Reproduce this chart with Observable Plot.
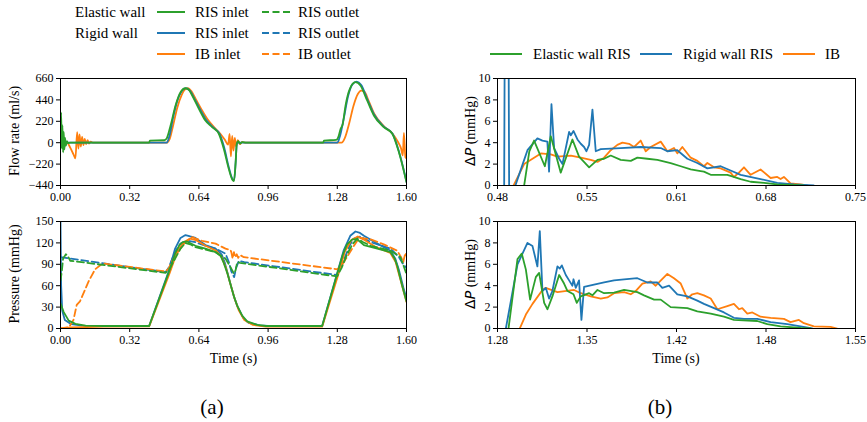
<!DOCTYPE html>
<html><head><meta charset="utf-8">
<script src="https://cdn.jsdelivr.net/npm/d3@7"></script>
<script src="https://cdn.jsdelivr.net/npm/@observablehq/plot@0.6"></script>
<style>
body{margin:0;background:#fff;}
#root{position:relative;width:867px;height:422px;background:#fff;font-family:'Liberation Serif','Times New Roman',serif;color:#000;overflow:hidden;}
.abs{position:absolute;white-space:nowrap;line-height:1;}
.panel{position:absolute;}
</style></head><body><div id="root"></div>
<script>
// ---------- tick values / labels ----------
const timeTicksA = [0, 0.32, 0.64, 0.96, 1.28, 1.6];
const flowTicks = [-440, -220, 0, 220, 440, 660];
const pressTicks = [0, 30, 60, 90, 120, 150];
const dpTicks = [0, 2, 4, 6, 8, 10];
const timeTicksB1 = [0.48, 0.5475, 0.615, 0.6825, 0.75];
const timeLabelsB1 = ["0.48", "0.55", "0.61", "0.68", "0.75"];
const timeTicksB2 = [1.28, 1.3475, 1.415, 1.4825, 1.55];
const timeLabelsB2 = ["1.28", "1.35", "1.42", "1.48", "1.55"];

// ---------- colours ----------
const cElastic = "#2ca02c", cRigid = "#1f77b4", cIB = "#ff7f0e";

// ---------- (a) flow rate [t (s), Q (ml/s)] ----------
const flowElasticInlet = [[0,0],[0.003,310],[0.006,-60],[0.009,180],[0.012,-100],[0.015,110],[0.018,-70],[0.021,50],[0.025,-30],[0.03,15],[0.035,-5],[0.045,0],[0.41,0],[0.413,22],[0.48,25],[0.49,40],[0.509,177],[0.532,382],[0.555,519],[0.578,560],[0.595,540],[0.609,485],[0.64,348],[0.67,228],[0.701,160],[0.732,92],[0.755,-62],[0.778,-268],[0.797,-388],[0.802,-395],[0.81,-200],[0.815,-10],[0.822,15],[0.83,-10],[0.84,5],[0.86,0],[1.215,0],[1.218,22],[1.275,28],[1.285,60],[1.295,140],[1.305,190],[1.318,382],[1.338,554],[1.364,622],[1.387,588],[1.418,434],[1.449,280],[1.495,160],[1.534,92],[1.565,-98],[1.6,-406]];
const flowRigidInlet = [[0,0],[0.49,0],[0.505,80],[0.52,250],[0.54,430],[0.56,530],[0.58,562],[0.6,530],[0.62,450],[0.645,345],[0.675,230],[0.705,160],[0.735,92],[0.757,-50],[0.778,-250],[0.797,-380],[0.803,-385],[0.81,-200],[0.816,0],[1.28,0],[1.29,50],[1.31,250],[1.33,480],[1.35,600],[1.37,628],[1.39,595],[1.42,440],[1.45,290],[1.495,165],[1.535,95],[1.565,-90],[1.6,-400]];
const flowIBInlet = [[0,0],[0.03,0],[0.045,-50],[0.06,-120],[0.069,-162],[0.077,108],[0.083,-60],[0.088,85],[0.094,-40],[0.1,60],[0.106,-25],[0.112,40],[0.118,-15],[0.125,25],[0.132,-8],[0.14,12],[0.15,0],[0.49,0],[0.505,40],[0.52,170],[0.54,360],[0.56,490],[0.575,545],[0.59,560],[0.605,530],[0.625,450],[0.65,350],[0.68,240],[0.71,160],[0.74,90],[0.76,30],[0.775,-20],[0.782,90],[0.788,-140],[0.794,70],[0.8,-80],[0.806,50],[0.812,-40],[0.82,25],[0.83,-15],[0.84,8],[0.85,0],[1.3,0],[1.315,50],[1.335,200],[1.355,380],[1.375,500],[1.39,535],[1.405,525],[1.425,430],[1.45,300],[1.495,170],[1.535,95],[1.56,10],[1.575,-60],[1.583,-130],[1.588,100],[1.595,-150],[1.6,-160]];

// ---------- (a) pressure [t (s), p (mmHg)] ----------
const pressElasticInlet = [[0,35],[0.015,23],[0.038,11],[0.069,6.5],[0.116,4],[0.2,3.5],[0.41,3.5],[0.5,78],[0.53,105],[0.55,117],[0.565,121],[0.585,122],[0.624,116],[0.67,112],[0.717,107],[0.74,102],[0.755,92],[0.771,78],[0.786,62],[0.802,45],[0.817,32],[0.84,18],[0.863,10],[0.91,5],[0.95,3.5],[1.21,3.5],[1.28,77],[1.305,103],[1.325,118],[1.35,125],[1.372,125],[1.403,117],[1.465,112],[1.526,107],[1.545,98],[1.557,88],[1.58,60],[1.6,38]];
const pressElasticOutlet = [[0,67],[0.006,80],[0.012,98],[0.025,104],[0.035,101],[0.045,95],[0.486,78],[0.505,84],[0.532,99],[0.555,112],[0.578,120],[0.6,118],[0.624,114],[0.717,107],[0.763,98],[0.786,86],[0.802,77],[0.81,82],[0.817,93],[0.83,92],[1.279,73],[1.3,85],[1.325,104],[1.35,118],[1.372,126],[1.4,121],[1.434,116],[1.526,109],[1.572,100],[1.59,85],[1.6,76]];
const pressRigidInlet = [[0,150],[0.003,60],[0.008,25],[0.02,12],[0.05,6],[0.1,4],[0.2,3.5],[0.41,3.5],[0.5,80],[0.53,112],[0.555,127],[0.578,131],[0.6,129],[0.624,127],[0.67,117],[0.717,112],[0.745,104],[0.76,92],[0.775,75],[0.79,58],[0.805,42],[0.82,30],[0.845,15],[0.87,8],[0.92,4.5],[0.96,3.5],[1.21,3.5],[1.28,78],[1.31,110],[1.34,130],[1.364,136],[1.385,134],[1.403,130],[1.465,119],[1.526,109],[1.548,98],[1.565,82],[1.585,58],[1.6,42]];
const pressRigidOutlet = [[0,100],[0.486,79],[0.5,85],[0.517,98],[0.535,110],[0.555,119],[0.586,123],[0.624,121],[0.67,116],[0.717,112],[0.763,105],[0.78,92],[0.79,80],[0.803,72],[0.812,85],[0.825,95],[0.85,93],[1.279,75],[1.3,88],[1.318,102],[1.34,118],[1.357,126],[1.387,129],[1.434,121],[1.526,112],[1.565,100],[1.585,90],[1.6,85]];
const pressIBInlet = [[0,0],[0.05,1.5],[0.2,2.5],[0.41,3],[0.505,78],[0.54,108],[0.57,121],[0.6,126],[0.625,124],[0.67,116],[0.72,109],[0.745,100],[0.765,85],[0.785,63],[0.805,42],[0.825,25],[0.85,12],[0.89,5],[0.95,2.5],[1.21,2.5],[1.285,76],[1.315,108],[1.345,124],[1.375,129],[1.4,125],[1.46,114],[1.525,106],[1.55,93],[1.575,65],[1.6,37]];
const pressIBOutlet = [[0,0],[0.04,2],[0.06,12],[0.075,33],[0.09,38],[0.1,45],[0.13,66],[0.16,83],[0.19,90],[0.2,91],[0.486,80],[0.5,84],[0.517,95],[0.54,106],[0.563,116],[0.585,123],[0.609,128],[0.625,126],[0.655,123],[0.717,119],[0.763,112],[0.786,110],[0.79,107],[0.796,98],[0.802,107],[0.808,100],[0.815,104],[0.822,99],[0.83,103],[0.848,100],[1.279,83],[1.3,88],[1.318,97],[1.349,112],[1.37,122],[1.387,127],[1.434,125],[1.495,118],[1.557,109],[1.575,100],[1.585,93],[1.59,100],[1.595,106],[1.6,102]];

// ---------- (b) pressure drop, first systole [t (s), dP (mmHg)] ----------
const dp1Elastic = [[0.5001,0],[0.5040,3.2],[0.5076,4.2],[0.5157,1.8],[0.5202,4.6],[0.5277,1.2],[0.5365,4.3],[0.5415,2.7],[0.5491,1.7],[0.5554,2.4],[0.5604,2.5],[0.5654,2.8],[0.5729,2.4],[0.5805,2.3],[0.5855,2.6],[0.5930,2.5],[0.6006,2.4],[0.6106,2.1],[0.6182,1.8],[0.6257,1.5],[0.6332,1.35],[0.6357,1.3],[0.6408,1.0],[0.6533,1.0],[0.6558,0.9],[0.6634,0.6],[0.6709,0.35],[0.6810,0.25],[0.6910,0.1],[0.7010,0.05],[0.7111,0]];
const dp1Rigid = [[0.48,-1],[0.4850,-1],[0.4854,12],[0.4884,12],[0.4888,-1],[0.4935,0],[0.4990,2],[0.5026,3.3],[0.5101,4.4],[0.5139,4.2],[0.5176,4.1],[0.5189,1.3],[0.5207,7.6],[0.5227,3.5],[0.5265,2.5],[0.5290,2.0],[0.5340,5.0],[0.5353,4.7],[0.5373,5.1],[0.5403,4.3],[0.5428,3.9],[0.5453,3.6],[0.5471,3.2],[0.5491,3.8],[0.5516,7.1],[0.5541,3.2],[0.5579,3.4],[0.5729,3.5],[0.5880,3.6],[0.6031,3.5],[0.6081,3.2],[0.6156,3.3],[0.6232,2.5],[0.6307,2.1],[0.6383,1.6],[0.6483,1.8],[0.6558,1.4],[0.6634,1.0],[0.6784,0.6],[0.6910,0.25],[0.7036,0.1],[0.7186,0]];
const dp1IB = [[0.4921,0],[0.5001,2.0],[0.5127,3.0],[0.5202,2.9],[0.5252,2.7],[0.5353,2.8],[0.5428,2.6],[0.5503,2.4],[0.5554,2.2],[0.5604,2.6],[0.5654,3.3],[0.5704,3.8],[0.5742,4.0],[0.5792,3.9],[0.5830,3.6],[0.5880,4.2],[0.5918,3.2],[0.5955,3.6],[0.6031,4.1],[0.6081,3.2],[0.6131,3.5],[0.6156,3.0],[0.6194,3.6],[0.6257,2.6],[0.6307,2.3],[0.6357,1.8],[0.6383,2.1],[0.6433,1.7],[0.6483,1.6],[0.6558,1.2],[0.6583,0.8],[0.6621,1.2],[0.6659,1.7],[0.6709,1.0],[0.6784,1.5],[0.6860,0.7],[0.6910,0.8],[0.6935,0.6],[0.6960,0.8],[0.7010,0.2],[0.7086,0.1],[0.7136,0]];

// ---------- (b) pressure drop, second systole ----------
const dp2Elastic = [[1.2883,0],[1.2951,6.5],[1.2983,7.0],[1.3014,5.5],[1.3046,2.7],[1.3089,4.8],[1.3114,5.2],[1.3152,2.4],[1.3177,1.8],[1.3214,3.0],[1.3265,5.0],[1.3302,4.2],[1.3328,3.5],[1.3373,3.2],[1.3398,2.4],[1.3428,3.0],[1.3491,3.3],[1.3516,3.1],[1.3554,3.6],[1.3604,3.3],[1.3679,3.35],[1.3755,3.6],[1.3855,3.4],[1.3905,3.1],[1.3981,2.7],[1.4031,2.7],[1.4106,2.0],[1.4232,1.9],[1.4307,1.6],[1.4408,1.4],[1.4508,1.1],[1.4583,0.8],[1.4759,0.7],[1.4835,0.4],[1.4935,0.2],[1.5086,0.05],[1.5161,0]];
const dp2Rigid = [[1.2863,0],[1.2951,6.0],[1.3026,8.0],[1.3064,7.7],[1.3101,5.8],[1.3119,9.1],[1.3139,3.5],[1.3164,3.8],[1.3189,2.8],[1.3214,3.5],[1.3252,5.8],[1.3270,5.6],[1.3285,5.9],[1.3315,5.0],[1.3340,4.5],[1.3365,4.0],[1.3373,4.6],[1.3390,3.8],[1.3415,4.5],[1.3433,0.8],[1.3453,3.9],[1.3528,4.1],[1.3604,4.3],[1.3679,4.5],[1.3755,4.6],[1.3855,4.7],[1.3930,4.3],[1.4006,4.3],[1.4043,3.8],[1.4094,4.0],[1.4156,3.2],[1.4232,3.0],[1.4307,2.6],[1.4357,2.3],[1.4433,1.9],[1.4508,1.5],[1.4583,1.0],[1.4659,0.9],[1.4759,0.9],[1.4860,0.6],[1.4985,0.4],[1.5086,0.2],[1.5174,0]];
const dp2IB = [[1.2968,0],[1.3014,1.3],[1.3064,2.3],[1.3139,3.6],[1.3164,3.8],[1.3252,3.4],[1.3378,3.6],[1.3428,3.3],[1.3503,3.0],[1.3579,2.8],[1.3629,2.9],[1.3679,3.3],[1.3755,3.4],[1.3805,3.2],[1.3842,3.5],[1.3893,4.2],[1.3930,4.3],[1.3955,4.4],[1.3993,4.0],[1.4081,5.1],[1.4131,4.7],[1.4182,4.2],[1.4232,2.8],[1.4269,3.2],[1.4307,3.3],[1.4357,3.1],[1.4408,2.8],[1.4458,1.8],[1.4533,2.1],[1.4583,2.3],[1.4621,1.8],[1.4646,1.9],[1.4684,1.4],[1.4722,1.5],[1.4784,1.1],[1.4860,1.0],[1.4960,0.9],[1.5010,0.6],[1.5073,0.8],[1.5111,0.5],[1.5186,0.2],[1.5312,0.15],[1.5362,0]];

// ---------- helpers ----------
const root = document.getElementById("root");
const FONT = "'Liberation Serif','Times New Roman',serif";
const DASH = "7,3.5";
const pts = arr => arr.map(([t, v]) => ({t, v}));
const minusFmt = d => d < 0 ? "\u2212" + (-d) : String(d);

function panel(o) {
  const fmtMap = o.xLabels ? new Map(o.xTicks.map((d, i) => [d, o.xLabels[i]])) : null;
  const marks = o.series.map(s => Plot.line(pts(s.data), {
    x: "t", y: "v", stroke: s.color, strokeWidth: 1.8, curve: o.curve || "linear",
    strokeDasharray: s.dash ? DASH : null, clip: true
  }));
  marks.push(Plot.frame({stroke: "#000", strokeWidth: 1}));
  const chart = Plot.plot({
    width: o.width, height: 135,
    marginLeft: o.mL, marginRight: o.mR, marginTop: 8, marginBottom: 20,
    style: {fontFamily: FONT, fontSize: "12px", color: "#000", background: "transparent", overflow: "visible"},
    x: {domain: o.xDomain, ticks: o.xTicks, tickFormat: fmtMap ? (d => fmtMap.get(d)) : (d => d.toFixed(2)),
        label: null, tickSize: 4, tickPadding: 3},
    y: {domain: o.yDomain, ticks: o.yTicks, tickFormat: minusFmt, label: null, tickSize: 4, tickPadding: 3},
    marks
  });
  chart.classList.add("panel");
  chart.style.left = o.left + "px";
  chart.style.top = o.top + "px";
  root.appendChild(chart);
}

function text(html, x, y, size, align) {
  const d = document.createElement("div");
  d.className = "abs";
  d.innerHTML = html;
  d.style.left = x + "px";
  d.style.top = y + "px";
  d.style.fontSize = size + "px";
  d.style.transform = align === "center" ? "translate(-50%,-50%)" : "translate(0,-50%)";
  root.appendChild(d);
}
function vtext(html, x, y, size) {
  const d = document.createElement("div");
  d.className = "abs";
  d.innerHTML = html;
  d.style.left = x + "px";
  d.style.top = y + "px";
  d.style.fontSize = size + "px";
  d.style.transform = "translate(-50%,-50%) rotate(-90deg)";
  root.appendChild(d);
}
function swatch(x1, x2, y, color, dash) {
  const ns = "http://www.w3.org/2000/svg";
  const s = document.createElementNS(ns, "svg");
  s.setAttribute("width", x2 - x1);
  s.setAttribute("height", 6);
  s.style.position = "absolute";
  s.style.left = x1 + "px";
  s.style.top = (y - 3) + "px";
  const l = document.createElementNS(ns, "line");
  l.setAttribute("x1", 0); l.setAttribute("x2", x2 - x1);
  l.setAttribute("y1", 3); l.setAttribute("y2", 3);
  l.setAttribute("stroke", color); l.setAttribute("stroke-width", 2);
  if (dash) l.setAttribute("stroke-dasharray", DASH);
  s.appendChild(l);
  root.appendChild(s);
}

// ---------- panels ----------
panel({left: 0, top: 70, width: 420, mL: 60, mR: 14, xDomain: [0, 1.6], xTicks: timeTicksA, curve: "monotone-x",
  yDomain: [-440, 660], yTicks: flowTicks,
  series: [{data: flowIBInlet, color: cIB}, {data: flowRigidInlet, color: cRigid}, {data: flowElasticInlet, color: cElastic}]});
panel({left: 0, top: 213, width: 420, mL: 60, mR: 14, xDomain: [0, 1.6], xTicks: timeTicksA,
  yDomain: [0, 150], yTicks: pressTicks,
  series: [
    {data: pressRigidInlet, color: cRigid}, {data: pressRigidOutlet, color: cRigid, dash: true},
    {data: pressIBInlet, color: cIB}, {data: pressIBOutlet, color: cIB, dash: true},
    {data: pressElasticInlet, color: cElastic}, {data: pressElasticOutlet, color: cElastic, dash: true}]});
panel({left: 440, top: 70, width: 427, mL: 57, mR: 12, xDomain: [0.48, 0.75], xTicks: timeTicksB1, xLabels: timeLabelsB1,
  yDomain: [0, 10], yTicks: dpTicks,
  series: [{data: dp1IB, color: cIB}, {data: dp1Rigid, color: cRigid}, {data: dp1Elastic, color: cElastic}]});
panel({left: 440, top: 213, width: 427, mL: 57, mR: 12, xDomain: [1.28, 1.55], xTicks: timeTicksB2, xLabels: timeLabelsB2,
  yDomain: [0, 10], yTicks: dpTicks,
  series: [{data: dp2IB, color: cIB}, {data: dp2Rigid, color: cRigid}, {data: dp2Elastic, color: cElastic}]});

// ---------- legends ----------
const LG = 15;
text("Elastic wall", 75, 12, LG);
text("Rigid wall", 75, 33, LG);
swatch(157, 185, 12, cElastic); text("RIS inlet", 195, 12, LG);
swatch(262, 290, 12, cElastic, true); text("RIS outlet", 298, 12, LG);
swatch(157, 185, 33, cRigid); text("RIS inlet", 195, 33, LG);
swatch(262, 290, 33, cRigid, true); text("RIS outlet", 298, 33, LG);
swatch(157, 185, 54, cIB); text("IB inlet", 195, 54, LG);
swatch(262, 290, 54, cIB, true); text("IB outlet", 298, 54, LG);

swatch(490, 522, 54, cElastic); text("Elastic wall RIS", 533, 54, LG);
swatch(640, 672, 54, cRigid); text("Rigid wall RIS", 683, 54, LG);
swatch(783, 815, 54, cIB); text("IB", 825, 54, LG);

// ---------- axis titles ----------
const dP = '<span style="font-family:\'DejaVu Sans\'">\u0394<i>P</i></span> (mmHg)';
vtext("Flow rate (ml/s)", 15, 131, 14);
vtext("Pressure (mmHg)", 15, 274, 14);
vtext(dP, 470, 131, 14);
vtext(dP, 470, 274, 14);
text("Time (s)", 233.5, 359, 14, "center");
text("Time (s)", 676, 359, 14, "center");
text("(a)", 212, 407, 21, "center");
text("(b)", 660, 407, 21, "center");
</script>
</body></html>
